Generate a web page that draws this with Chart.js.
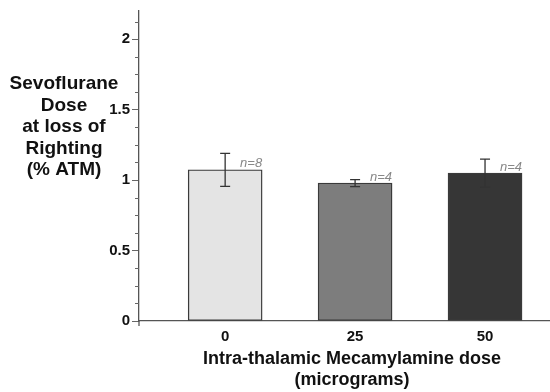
<!DOCTYPE html>
<html>
<head>
<meta charset="utf-8">
<script src="https://cdn.jsdelivr.net/npm/chart.js@4/dist/chart.umd.min.js"></script>
<style>
html,body{margin:0;padding:0;background:#fff;}
#wrap{position:relative;width:550px;height:392px;}
</style>
</head>
<body>
<div id="wrap"><canvas id="c" width="550" height="392"></canvas></div>
<script>
const categories = ['0', '25', '50'];
const means = [1.073, 0.979, 1.049];
const errors = [0.117, 0.025, 0.100];
const nLabels = ['n=8', 'n=4', 'n=4'];
const barColors = ['#e4e4e4', '#7d7d7d', '#363636'];
const yMajorTicks = [0, 0.5, 1, 1.5, 2];
const yMinorStep = 0.125;
const yTitleLines = ['Sevoflurane', 'Dose', 'at loss of', 'Righting', '(% ATM)'];
const xTitleLines = ['Intra-thalamic Mecamylamine dose', '(micrograms)'];

const FONT = '"Liberation Sans", Arial, Helvetica, sans-serif';

const extras = {
  id: 'extras',
  afterDatasetsDraw(chart) {
    const ctx = chart.ctx;
    const xs = chart.scales.x, ys = chart.scales.y;
    const meta = chart.getDatasetMeta(0);
    ctx.save();
    ctx.strokeStyle = '#333';
    ctx.lineWidth = 1.3;
    means.forEach((m, i) => {
      const x = xs.getPixelForValue(i);
      const yt = ys.getPixelForValue(m + errors[i]);
      const yb = ys.getPixelForValue(m - errors[i]);
      ctx.beginPath();
      ctx.moveTo(x, yt); ctx.lineTo(x, yb);
      ctx.moveTo(x - 5, yt); ctx.lineTo(x + 5, yt);
      ctx.moveTo(x - 5, yb); ctx.lineTo(x + 5, yb);
      ctx.stroke();
    });
    ctx.fillStyle = '#888';
    ctx.font = 'italic 13px ' + FONT;
    ctx.textAlign = 'right';
    ctx.textBaseline = 'alphabetic';
    meta.data.forEach((bar, i) => {
      const right = bar.x + bar.width / 2;
      ctx.fillText(nLabels[i], right, bar.y - 2.5);
    });
    ctx.restore();
  },
  afterDraw(chart) {
    const ctx = chart.ctx;
    const ys = chart.scales.y;
    const left = chart.chartArea.left, bottom = chart.chartArea.bottom;
    ctx.save();
    ctx.strokeStyle = '#666';
    ctx.lineWidth = 1;
    for (let v = 0; v <= ys.max + 1e-9; v += yMinorStep) {
      if (Math.abs(v / 0.5 - Math.round(v / 0.5)) < 1e-6) continue;
      const y = Math.round(ys.getPixelForValue(v)) + 0.5;
      ctx.beginPath();
      ctx.moveTo(left - 4, y); ctx.lineTo(left, y);
      ctx.stroke();
    }
    ctx.strokeStyle = '#555';
    ctx.lineWidth = 1.3;
    ctx.beginPath();
    ctx.moveTo(left, bottom); ctx.lineTo(left, bottom + 5);
    ctx.stroke();
    ctx.fillStyle = '#111';
    ctx.font = 'bold 19px ' + FONT;
    ctx.textAlign = 'center';
    ctx.textBaseline = 'alphabetic';
    yTitleLines.forEach((t, i) => ctx.fillText(t, 64, 89 + i * 21.5));
    ctx.font = 'bold 18px ' + FONT;
    xTitleLines.forEach((t, i) => ctx.fillText(t, 352, 364 + i * 21));
    ctx.restore();
  }
};

new Chart(document.getElementById('c'), {
  type: 'bar',
  data: {
    datasets: [{
      data: means.map((m, i) => ({ x: i, y: m })),
      backgroundColor: barColors,
      borderColor: '#3a3a3a',
      borderWidth: 1.4,
      borderSkipped: false,
      barThickness: 74
    }]
  },
  options: {
    responsive: false,
    animation: false,
    devicePixelRatio: 1,
    layout: { padding: { top: 9, left: 0, right: 0, bottom: 0 } },
    plugins: { legend: { display: false }, tooltip: { enabled: false }, title: { display: false } },
    scales: {
      x: {
        type: 'linear',
        offset: false,
        min: -0.663,
        max: 2.5,
        afterFit(s) { s.height = 71; },
        afterBuildTicks(s) { s.ticks = categories.map((c, i) => ({ value: i })); },
        ticks: {
          callback: (v) => categories[v] !== undefined ? categories[v] : '',
          font: { family: FONT, size: 15, weight: 'bold' },
          color: '#111',
          padding: 7,
          maxRotation: 0,
          autoSkip: false
        },
        grid: { display: false, drawTicks: false, offset: false },
        border: { display: true, color: '#555', width: 1.3 }
      },
      y: {
        min: 0,
        max: 2.2,
        afterFit(s) { s.width = 139; },
        afterBuildTicks(s) { s.ticks = yMajorTicks.map(v => ({ value: v })); },
        ticks: {
          callback: (v) => String(v),
          font: { family: FONT, size: 15, weight: 'bold' },
          color: '#111',
          padding: 2
        },
        grid: { display: true, drawOnChartArea: false, tickLength: 7, color: '#666' },
        border: { display: true, color: '#555', width: 1.3 }
      }
    }
  },
  plugins: [extras]
});
</script>
</body>
</html>
